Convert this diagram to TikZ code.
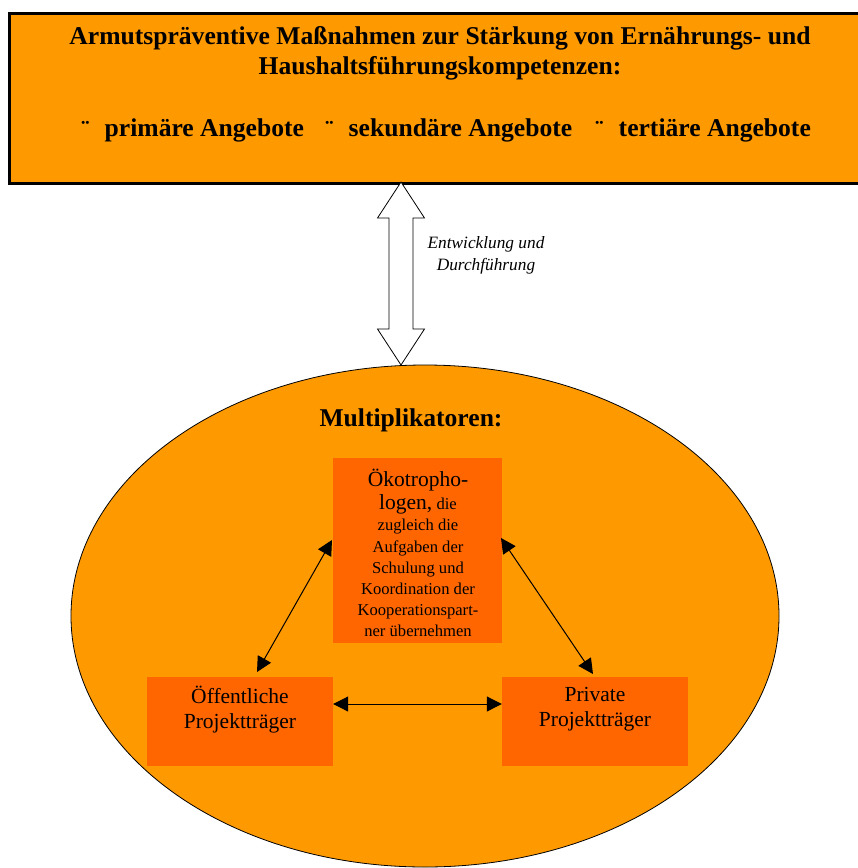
\documentclass[tikz,border=0pt]{standalone}
\usepackage{fontspec}
\setmainfont{Liberation Serif}
\usetikzlibrary{arrows.meta,shapes.geometric}
\definecolor{orangeA}{HTML}{FF9900}
\definecolor{orangeB}{HTML}{FF6600}
\tikzset{
  box/.style={fill=orangeB, draw=none, inner sep=0pt},
  boxtext/.style={align=center, font=\fontsize{21.5}{25}\selectfont, inner sep=0pt},
  headtext/.style={font=\bfseries\fontsize{25.6}{30}\selectfont, inner sep=0pt},
  link/.style={line width=1pt, {Triangle[length=15pt,width=15pt]}-{Triangle[length=15pt,width=15pt]}},
}
\begin{document}
\begin{tikzpicture}[x=1pt,y=-1pt]
\useasboundingbox (0,0) rectangle (858,868);
% top box
\node[box, fill=orangeA, draw=black, line width=3pt, minimum width=862, minimum height=170, anchor=north west] (top) at (8,12) {};
\node[headtext, align=center] (title) at (440,53)
  {Armutspräventive Maßnahmen zur Stärkung von Ernährungs- und\\Haushaltsführungskompetenzen:};
\node[headtext, anchor=west] (o1) at (81,130) {\raisebox{-2pt}{¨}\hspace{15pt}primäre Angebote};
\node[headtext, anchor=west] (o2) at (325,130) {\raisebox{-2pt}{¨}\hspace{15pt}sekundäre Angebote};
\node[headtext, anchor=west] (o3) at (595,130) {\raisebox{-2pt}{¨}\hspace{15pt}tertiäre Angebote};
% ellipse
\node[ellipse, fill=orangeA, draw=black, line width=0.8pt, minimum width=708, minimum height=502, inner sep=0pt] (mult) at (425,616) {};
% hollow double arrow
\coordinate (at) at (401,182);
\coordinate (ab) at (401,365);
\draw[fill=white, line width=0.8pt]
  (at) -- ++(23.5,36) -- ++(-11.5,0) -- ++(0,111) -- ++(11.5,0) -- (ab)
  -- ++(-23.5,-36) -- ++(11.5,0) -- ++(0,-111) -- ++(-11.5,0) -- cycle;
\node[font=\itshape\fontsize{17.3}{22}\selectfont, align=center, inner sep=0pt] (lbl) at (486,255) {Entwicklung und\\Durchführung};
\node[headtext] (mtitle) at (411,420) {Multiplikatoren:};
% inner boxes
\node[box, minimum width=169, minimum height=185] (oeko) at (417.5,550.5) {};
\node[box, minimum width=186, minimum height=89] (oeff) at (240,721.5) {};
\node[box, minimum width=186, minimum height=89] (priv) at (595,721.5) {};
\node[align=center, inner sep=0pt, font=\fontsize{16.6}{21.2}\selectfont] (oekotext) at (418,553)
  {{\fontsize{21.5}{24}\selectfont Ökotropho-}\\[2pt]{\fontsize{21.5}{24}\selectfont logen,} die\\zugleich die\\Aufgaben der\\Schulung und\\Koordination der\\Kooperationspart-\\ner übernehmen};
\node[boxtext] (oefftext) at (240,709.5) {Öffentliche\\Projektträger};
\node[boxtext] (privtext) at (595,709.5) {Private\\Projektträger};
% connectors
\coordinate (l1) at (332,540);
\coordinate (l2) at (257,672);
\coordinate (r1) at (501,538);
\coordinate (r2) at (593,674);
\draw[link] (l1) -- (l2);
\draw[link] (r1) -- (r2);
\draw[link] ([yshift=17.5pt]oeff.east) -- ([yshift=17.5pt]priv.west);
\end{tikzpicture}
\end{document}
